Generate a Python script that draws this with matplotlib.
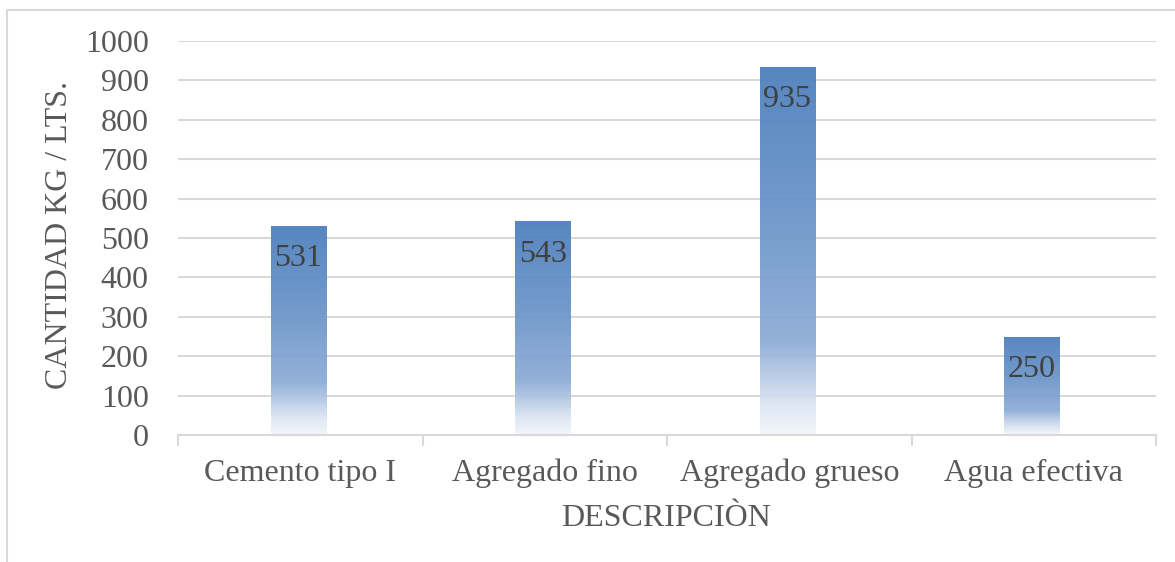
import numpy as np
import matplotlib
matplotlib.use("Agg")
import matplotlib.pyplot as plt
from matplotlib.colors import LinearSegmentedColormap
from matplotlib.lines import Line2D

categorias = ["Cemento tipo I", "Agregado fino", "Agregado grueso", "Agua efectiva"]
valores = [531, 543, 935, 250]
yticks = [0, 100, 200, 300, 400, 500, 600, 700, 800, 900, 1000]

plt.rcParams['font.family'] = ['Liberation Serif', 'DejaVu Serif']

W, H = 1175, 562
fig = plt.figure(figsize=(W / 100, H / 100), dpi=100)
ax = fig.add_axes([178 / W, (H - 435) / H, (1156 - 178) / W, (435 - 41) / H])

x = np.arange(len(categorias))
ancho = 0.225
fs = 23

# gradiente tipo Excel: azul arriba, se desvanece abajo
cmap = LinearSegmentedColormap.from_list(
    "grad", [(0.0, "#f3f6fb"), (0.08, "#dde6f2"), (0.25, "#8eadd6"),
             (0.6, "#6b95c9"), (1.0, "#4e80bd")])
grad = np.linspace(1, 0, 256).reshape(-1, 1)

barras = ax.bar(x - 0.008, valores, ancho, color="none", edgecolor="none", zorder=2)
for b, v in zip(barras, valores):
    x0 = b.get_x()
    im = ax.imshow(grad, cmap=cmap, vmin=0, vmax=1, aspect="auto",
                   extent=[x0, x0 + b.get_width(), 0, v], zorder=2, alpha=0.95)
    im.set_clip_path(b)
    ax.annotate(str(v), (b.get_x() + b.get_width() / 2, v), xytext=(0, -33),
                textcoords="offset pixels", ha="center", va="center",
                fontsize=fs, color="#404040", zorder=3)

ax.set_xlim(-0.5, len(categorias) - 0.5)
ax.set_ylim(0, 1000)
ax.set_yticks(yticks)
ax.yaxis.grid(True, color="#d9d9d9", lw=1.5, zorder=1)
ax.set_axisbelow(True)

ax.set_xticks(x)
ax.set_xticklabels(categorias)
ax.set_xticks(np.arange(len(categorias) + 1) - 0.5, minor=True)
ax.tick_params(axis="x", which="major", length=0, pad=17, labelsize=fs, labelcolor="#595959")
ax.tick_params(axis="x", which="minor", length=8, width=1.5, color="#d9d9d9")
ax.tick_params(axis="y", length=0, pad=21, labelsize=fs, labelcolor="#595959")

for s in ["top", "right", "left"]:
    ax.spines[s].set_visible(False)
ax.spines["bottom"].set_color("#d9d9d9")
ax.spines["bottom"].set_linewidth(1.5)

fig.text(60 / W, 1 - 235 / H, "CANTIDAD KG / LTS.", rotation=90, ha="center",
         va="center", fontsize=fs, color="#595959")
fig.text(666 / W, 1 - 518 / H, "DESCRIPCIÒN", ha="center", va="center",
         fontsize=fs, color="#595959")

# marco exterior del grafico
fig.add_artist(Line2D([7 / W, 7 / W, 1], [0, 1 - 10 / H, 1 - 10 / H],
                      transform=fig.transFigure, color="#d9d9d9", lw=1.5))

fig.savefig("out.png", dpi=100)
